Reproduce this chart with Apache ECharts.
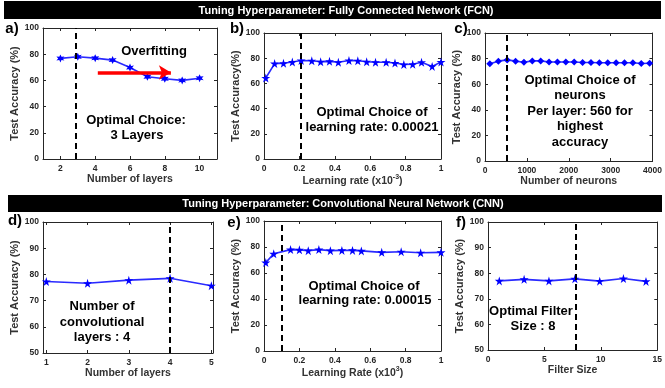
<!DOCTYPE html>
<html><head><meta charset="utf-8">
<script src="https://cdn.jsdelivr.net/npm/echarts@6/dist/echarts.min.js"></script>
<style>html,body{margin:0;padding:0;background:#fff}#c{width:665px;height:388px}</style>
</head><body><div id="c"></div>
<script>
// ---- data ----
const aLayers = [2,3,4,5,6,7,8,9,10];
const aAcc    = [76.8,78,77,75.5,69.8,62.8,61.3,60,61.7];
const aOptimal = 2.9;
const aArrow = [[4.15,66],[8.35,66]];

const bRate = [0.01,0.06,0.11,0.16,0.21,0.27,0.32,0.37,0.42,0.48,0.53,0.58,0.63,0.69,0.74,0.79,0.84,0.89,0.95,1.0];
const bAcc  = [64.3,75.7,76,77,78.2,78,77.2,77.5,76.8,78.2,78,77.2,76.8,76.8,76.2,75,75.2,76.8,73.5,77];
const bOptimal = 0.21;

const cNeurons = [115,320,530,730,930,1130,1330,1530,1730,1930,2130,2330,2530,2730,2930,3130,3330,3530,3730,3930];
const cAcc     = [75.9,78,79,78,77.2,78.2,78.2,77.4,77.4,77.4,77.4,77,77,76.7,76.7,76.7,76.7,76.7,76.2,76.4];
const cOptimal = 530;

const dLayers = [1,2,3,4,5];
const dAcc    = [77.3,76.6,77.8,78.5,75.7];
const dOptimal = 4;

const eRate = [0.01,0.055,0.15,0.2,0.25,0.31,0.375,0.44,0.5,0.55,0.665,0.775,0.885,1.0];
const eAcc  = [68,74.8,78,77.8,77.2,78,77.2,77.4,77.4,77,75.9,76.4,75.6,75.9];
const eOptimal = 0.104;

const fSize = [1,3.2,5.4,7.7,9.9,12,14];
const fAcc  = [77,77.6,77,77.8,76.9,77.9,76.8];
const fOptimal = 7.75;

const ticksA = [2,4,6,8,10];
const ticksD = [1,2,3,4,5];

// ---- layout / style ----
const FONT = "'Liberation Sans', Arial, Helvetica, sans-serif";
const AX = '#262626';
const grids = [
  {left:43, top:28, width:174, height:131},
  {left:264, top:33, width:177, height:126},
  {left:485, top:33, width:172, height:128},
  {left:43, top:222, width:170, height:131},
  {left:264, top:221, width:177, height:130},
  {left:488, top:222, width:171, height:128}
];
const xCfg = [
  {min:1, max:11, custom:ticksA, name:'Number of layers', gap:14},
  {min:0, max:1, interval:0.2, name:'{n|Learning rate (x10}{s|-3}{n|)}', gap:13},
  {min:0, max:4000, interval:1000, name:'Number of neurons', gap:14},
  {min:0.92, max:5.04, custom:ticksD, name:'Number of layers', gap:14},
  {min:0, max:1, interval:0.2, name:'{n|Learning Rate (x10}{s|3}{n|)}', gap:15},
  {min:0, max:15, interval:5, name:'Filter Size', gap:14}
];
const yCfg = [
  {min:0, max:100, interval:20, name:'Test Accuracy (%)', gap:18},
  {min:0, max:100, interval:20, name:'Test Accuracy(%)', gap:21},
  {min:0, max:100, interval:20, name:'Test Accuracy (%)', gap:20},
  {min:50, max:100, interval:10, name:'Test Accuracy (%)', gap:20},
  {min:0, max:100, interval:20, name:'Test Accuracy (%)', gap:21},
  {min:50, max:100, interval:10, name:'Test Accuracy (%)', gap:21}
];
const mkName = (fs)=>({color:'#333', fontWeight:'bold', fontSize:fs, fontFamily:FONT,
  rich:{n:{color:'#333', fontWeight:'bold', fontSize:fs, fontFamily:FONT, lineHeight:14},
        s:{color:'#333', fontWeight:'bold', fontSize:7, fontFamily:FONT, verticalAlign:'top', lineHeight:8}}});

const xAxes = [], yAxes = [];
grids.forEach((g,i)=>{
  const xc = xCfg[i], yc = yCfg[i];
  const base = (c)=>{
    const o = {type:'value', min:c.min, max:c.max, splitLine:{show:false}};
    if (c.interval) o.interval = c.interval;
    return o;
  };
  const tick = (c)=>{ const t={show:true, inside:true, length:3, lineStyle:{color:AX,width:1}}; if(c.custom) t.customValues=c.custom; return t; };
  const lab = (c,show)=>{ const l={show:show, fontSize:8.5, fontWeight:'bold', color:AX, fontFamily:FONT, margin:5,
      formatter:(v)=>String(v)}; if(c.custom) l.customValues=c.custom; return l; };
  xAxes.push(Object.assign(base(xc), {gridIndex:i, position:'bottom',
    axisLine:{show:true, onZero:false, lineStyle:{color:AX,width:1}},
    axisTick:tick(xc), axisLabel:lab(xc,true),
    name:xc.name, nameLocation:'middle', nameGap:xc.gap, nameTextStyle:mkName(10.5)}));
  xAxes.push(Object.assign(base(xc), {gridIndex:i, position:'top',
    axisLine:{show:true, onZero:false, lineStyle:{color:AX,width:1}},
    axisTick:tick(xc), axisLabel:lab(xc,false)}));
  yAxes.push(Object.assign(base(yc), {gridIndex:i, position:'left',
    axisLine:{show:true, onZero:false, lineStyle:{color:AX,width:1}},
    axisTick:tick(yc), axisLabel:Object.assign(lab(yc,true),{margin:4}),
    name:yc.name, nameLocation:'middle', nameRotate:90, nameGap:yc.gap, nameTextStyle:mkName(11)}));
  yAxes.push(Object.assign(base(yc), {gridIndex:i, position:'right',
    axisLine:{show:true, onZero:false, lineStyle:{color:AX,width:1}},
    axisTick:tick(yc), axisLabel:lab(yc,false)}));
});

const STAR5 = 'path://M50,0 L61,35 L98,35 L68,57 L79,91 L50,70 L21,91 L32,57 L2,35 L39,35 Z';
const STAR6 = 'path://M50,0 L62,29 L93,25 L74,50 L93,75 L62,71 L50,100 L38,71 L7,75 L26,50 L7,25 L38,29 Z';
const dash = (v)=>({silent:true, symbol:['none','none'], label:{show:false},
  lineStyle:{color:'#000', width:2, type:[6,4]}, data:[{xAxis:v}]});
const zip = (xs,ys)=>xs.map((x,k)=>[x,ys[k]]);
const mk = (i, xs, ys, sym, size, opt)=>({type:'line', xAxisIndex:2*i, yAxisIndex:2*i,
  data:zip(xs,ys), symbol:sym, symbolSize:size, showSymbol:true,
  lineStyle:{color:'#2a2aff', width:1.6}, itemStyle:{color:'#0000ff'},
  markLine:dash(opt), animation:false, z:3});

const series = [
  mk(0, aLayers, aAcc, STAR6, 8, aOptimal),
  mk(1, bRate, bAcc, STAR5, 9, bOptimal),
  mk(2, cNeurons, cAcc, 'diamond', 7, cOptimal),
  mk(3, dLayers, dAcc, STAR5, 9, dOptimal),
  mk(4, eRate, eAcc, STAR5, 9, eOptimal),
  mk(5, fSize, fAcc, STAR5, 9, fOptimal),
  {type:'line', xAxisIndex:0, yAxisIndex:0, data:[], animation:false,
   markLine:{silent:true, symbol:['none','arrow'], symbolSize:[11,12], label:{show:false},
     lineStyle:{color:'#ff0000', width:3.5, type:'solid'},
     data:[[{coord:aArrow[0]},{coord:aArrow[1]}]]}}
];

const T = (text,x,y,size,color,weight)=>({type:'text', silent:true, z:10,
  style:{text:text, x:x, y:y, fill:color||'#000', font:`${weight||'bold'} ${size}px ${FONT}`,
    align:'center', verticalAlign:'middle', textAlign:'center', textVerticalAlign:'middle'}});

const graphic = [
  {type:'rect', shape:{x:4,y:1,width:657,height:18}, style:{fill:'#000'}, z:5},
  T('Tuning Hyperparameter: Fully Connected Network (FCN)', 346, 10.5, 11, '#fff'),
  {type:'rect', shape:{x:8,y:195,width:654,height:17}, style:{fill:'#000'}, z:5},
  T('Tuning Hyperparameter: Convolutional Neural Network (CNN)', 343, 204, 11, '#fff'),
  T('a)', 12, 29, 15), T('b)', 237, 29, 15), T('c)', 461, 29, 15),
  T('d)', 15, 221, 15), T('e)', 234, 223, 15), T('f)', 461, 223, 15),
  T('Overfitting', 154, 51, 13),
  T('Optimal Choice:', 136, 120, 13), T('3 Layers', 137, 135, 13),
  T('Optimal Choice of', 372, 112, 13), T('learning rate: 0.00021', 372, 127, 13),
  T('Optimal Choice of', 580, 80, 13), T('neurons', 580, 95, 13), T('Per layer: 560 for', 580, 111, 13),
  T('highest', 580, 126, 13), T('accuracy', 580, 142, 13),
  T('Number of', 102, 306, 13), T('convolutional', 102, 322, 13), T('layers : 4', 102, 337, 13),
  T('Optimal Choice of', 364, 286, 13), T('learning rate: 0.00015', 365, 300, 13),
  T('Optimal Filter', 531, 311, 13), T('Size : 8', 533, 326, 13)
];

const chart = echarts.init(document.getElementById('c'), null, {renderer:'canvas'});
chart.setOption({animation:false, backgroundColor:'#fff',
  grid:grids, xAxis:xAxes, yAxis:yAxes, series:series, graphic:graphic});
</script></body></html>
